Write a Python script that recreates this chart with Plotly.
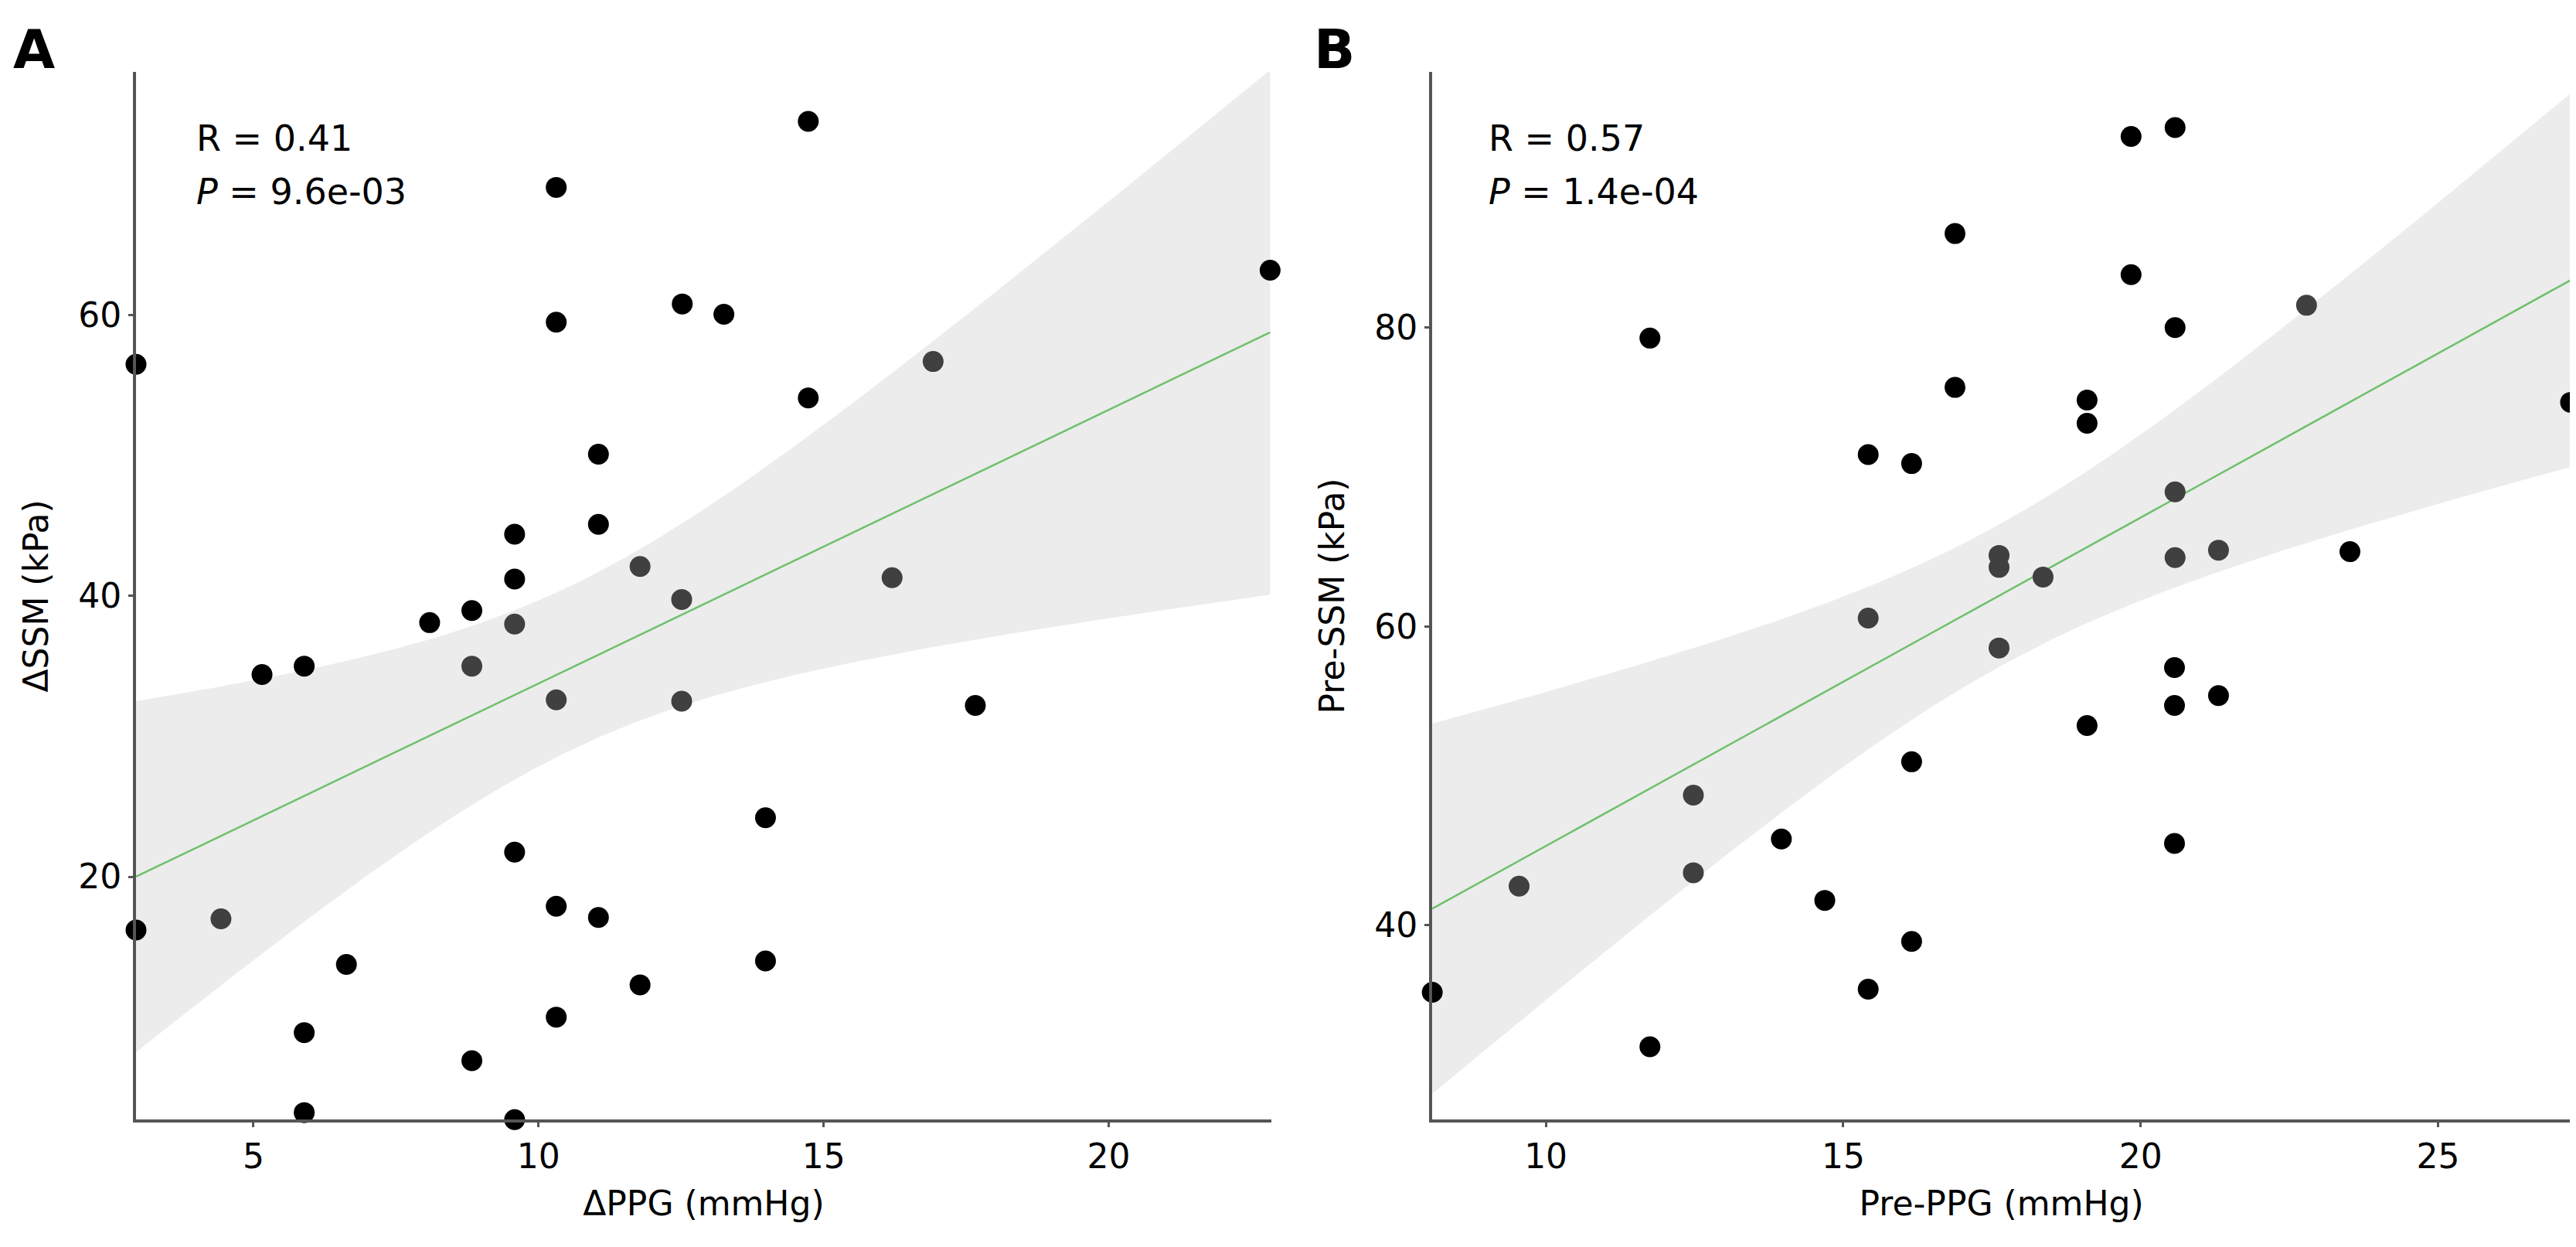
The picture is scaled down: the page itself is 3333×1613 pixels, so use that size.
import numpy as np
import plotly.graph_objects as go

# Panel A data
a_x = [14.73, 12.52, 13.25, 16.92, 14.73, 11.78, 16.2, 10.31, 10.31, 2.94, 11.05, 11.05, 9.58, 9.58,
       8.83, 8.09, 9.58, 5.15, 5.89, 8.83, 10.31, 9.58, 10.31, 11.05, 4.43, 2.94, 6.63, 10.31, 5.89,
       8.83, 5.89, 9.58, 12.51, 12.51, 17.66, 13.98, 13.98, 11.78, 22.83]
a_y = [73.8, 60.8, 60.06, 56.7, 54.1, 42.1, 41.3, 69.1, 59.5, 56.5, 50.1, 45.1, 44.4, 41.2,
       38.96, 38.1, 38.0, 34.4, 35.0, 35.0, 32.6, 21.75, 17.9, 17.1, 17.0, 16.2, 13.75, 10.0, 8.9,
       6.9, 3.2, 2.7, 39.75, 32.5, 32.2, 24.2, 14.0, 12.3, 63.2]
a_gray = [0, 0, 0, 1, 0, 1, 1, 0, 0, 0, 0, 0, 0, 0,
          0, 0, 1, 0, 0, 1, 1, 0, 0, 0, 1, 0, 0, 0, 0,
          0, 0, 0, 1, 1, 0, 0, 0, 0, 0]

# Panel B data
b_x = [11.75, 16.88, 16.88, 15.42, 16.15, 19.84, 20.58, 19.84, 20.58, 22.79, 19.1, 19.1, 27.23,
       20.58, 17.62, 17.62, 18.36, 20.58, 21.31, 23.52, 17.62, 20.57, 20.57, 21.31, 19.1, 20.57,
       15.42, 16.15, 12.48, 13.96, 12.48, 9.55, 14.69, 16.15, 8.09, 15.42, 11.75]
b_y = [79.3, 86.3, 76.0, 71.5, 70.9, 92.8, 93.4, 83.55, 80.0, 81.5, 75.15, 73.6, 75.0,
       69.0, 64.75, 63.95, 63.3, 64.6, 65.1, 65.0, 58.55, 57.24, 54.7, 55.36, 53.36, 45.46,
       60.55, 50.93, 48.7, 45.76, 43.5, 42.6, 41.65, 38.9, 35.5, 35.7, 31.85]
b_gray = [0, 0, 0, 0, 0, 0, 0, 0, 0, 1, 0, 0, 0,
          1, 1, 1, 1, 1, 1, 0, 1, 0, 0, 0, 0, 0,
          1, 0, 1, 0, 1, 1, 0, 0, 0, 0, 0]

a_xticks = [5, 10, 15, 20]
a_yticks = [20, 40, 60]
b_xticks = [10, 15, 20, 25]
b_yticks = [40, 60, 80]

T_CRIT = 2.03
FONT = "DejaVu Sans"

fig = go.Figure()


def add_panel(x, y, gray, xa, ya):
    x = np.array(x, float)
    y = np.array(y, float)
    n = len(x)
    slope, intercept = np.polyfit(x, y, 1)
    xs = np.linspace(x.min(), x.max(), 200)
    fit = intercept + slope * xs
    resid = y - (intercept + slope * x)
    s = np.sqrt(np.sum(resid ** 2) / (n - 2))
    se = s * np.sqrt(1 / n + (xs - x.mean()) ** 2 / np.sum((x - x.mean()) ** 2))
    up = fit + T_CRIT * se
    lo = fit - T_CRIT * se
    fig.add_trace(go.Scatter(x=np.concatenate([xs, xs[::-1]]), y=np.concatenate([up, lo[::-1]]),
                             fill="toself", fillcolor="#ececec", line=dict(width=0),
                             mode="lines", hoverinfo="skip", showlegend=False, xaxis=xa, yaxis=ya))
    fig.add_trace(go.Scatter(x=xs, y=fit, mode="lines", line=dict(color="#6fc06c", width=2.5),
                             showlegend=False, xaxis=xa, yaxis=ya))
    colors = ["#404040" if g else "#000000" for g in gray]
    fig.add_trace(go.Scatter(x=x, y=y, mode="markers", marker=dict(size=27, color=colors),
                             showlegend=False, xaxis=xa, yaxis=ya, cliponaxis=False))


add_panel(a_x, a_y, a_gray, "x", "y")
add_panel(b_x, b_y, b_gray, "x2", "y2")

axis_common = dict(showgrid=False, zeroline=False, showline=True, linecolor="#555555", linewidth=4,
                   ticks="outside", ticklen=6, tickwidth=3, tickcolor="#555555",
                   tickfont=dict(family=FONT, size=44, color="#000"),
                   title_font=dict(family=FONT, size=44, color="#000"))

ydom = [0.107, 0.947]
fig.update_layout(
    width=3333, height=1613, margin=dict(l=0, r=0, t=0, b=0),
    plot_bgcolor="white", paper_bgcolor="white",
    xaxis=dict(domain=[0.0504, 0.4911], range=[2.94, 22.85], tickvals=a_xticks,
               title=dict(text="ΔPPG (mmHg)", standoff=22), **axis_common),
    yaxis=dict(domain=ydom, range=[2.69, 77.3], tickvals=a_yticks,
               title=dict(text="ΔSSM (kPa)", standoff=26), **axis_common),
    xaxis2=dict(domain=[0.5536, 0.9955], range=[8.09, 27.23], tickvals=b_xticks, anchor="y2",
                title=dict(text="Pre-PPG (mmHg)", standoff=22), **axis_common),
    yaxis2=dict(domain=ydom, range=[26.96, 97.1], tickvals=b_yticks, anchor="x2",
                title=dict(text="Pre-SSM (kPa)", standoff=26), **axis_common),
)

txt = dict(font=dict(family=FONT, size=46, color="#000"), showarrow=False, xanchor="left", yanchor="middle")
fig.add_annotation(text="R = 0.41", xref="x domain", yref="y domain", x=0.052, y=0.937, **txt)
fig.add_annotation(text="<i>P</i> = 9.6e-03", xref="x domain", yref="y domain", x=0.052, y=0.886, **txt)
fig.add_annotation(text="R = 0.57", xref="x2 domain", yref="y2 domain", x=0.048, y=0.937, **txt)
fig.add_annotation(text="<i>P</i> = 1.4e-04", xref="x2 domain", yref="y2 domain", x=0.048, y=0.886, **txt)
lab = dict(font=dict(family=FONT, size=70, color="#000"), showarrow=False, xanchor="left", yanchor="top",
           xref="paper", yref="paper")
fig.add_annotation(text="<b>A</b>", x=0.002, y=0.992, **lab)
fig.add_annotation(text="<b>B</b>", x=0.507, y=0.992, **lab)

fig.write_html("out.html")
